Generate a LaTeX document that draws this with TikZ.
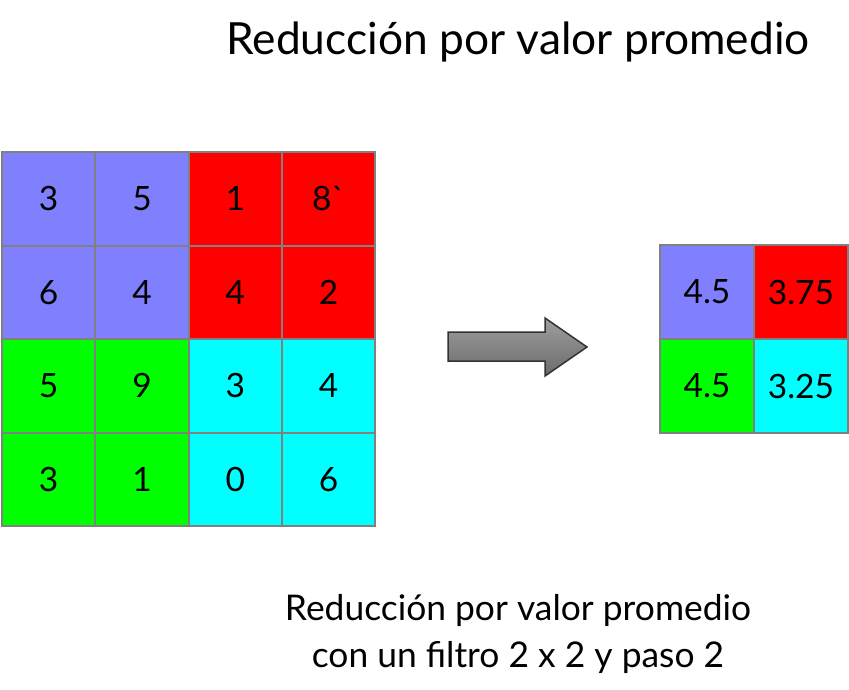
\documentclass[tikz,border=0pt]{standalone}
\usepackage{fontspec}
\setmainfont{Lato}
\definecolor{cblue}{HTML}{8080FF}
\definecolor{cred}{HTML}{FF0000}
\definecolor{cgreen}{HTML}{00FF00}
\definecolor{ccyan}{HTML}{00FFFF}
\definecolor{cborder}{HTML}{808080}
\begin{document}
\begin{tikzpicture}[x=1pt,y=-1pt,
  cell/.style={draw=cborder, line width=2pt, minimum width=93.3pt, minimum height=93.5pt, inner sep=0pt, anchor=center, font=\fontsize{33.5}{38}\selectfont},
  smallcell/.style={cell, minimum width=94pt, minimum height=94pt},
  caption/.style={font=\fontsize{44.3}{52}\selectfont, anchor=center},
  note/.style={font=\fontsize{35.4}{47}\selectfont, align=center, anchor=center}]
\useasboundingbox (0,0) rectangle (849,689);
% left grid
\node[cell, fill=cblue] (a11) at (48.7,198.8) {3};
\node[cell, fill=cblue] (a12) at (142,198.8) {5};
\node[cell, fill=cred] (a13) at (235.3,198.8) {1};
\node[cell, fill=cred] (a14) at (328.6,198.8) {8\textasciigrave};
\node[cell, fill=cblue] (a21) at (48.7,292.3) {6};
\node[cell, fill=cblue] (a22) at (142,292.3) {4};
\node[cell, fill=cred] (a23) at (235.3,292.3) {4};
\node[cell, fill=cred] (a24) at (328.6,292.3) {2};
\node[cell, fill=cgreen] (a31) at (48.7,385.8) {5};
\node[cell, fill=cgreen] (a32) at (142,385.8) {9};
\node[cell, fill=ccyan] (a33) at (235.3,385.8) {3};
\node[cell, fill=ccyan] (a34) at (328.6,385.8) {4};
\node[cell, fill=cgreen] (a41) at (48.7,479.3) {3};
\node[cell, fill=cgreen] (a42) at (142,479.3) {1};
\node[cell, fill=ccyan] (a43) at (235.3,479.3) {0};
\node[cell, fill=ccyan] (a44) at (328.6,479.3) {6};
% right grid
\node[smallcell, fill=cblue] (b11) at (707,292) {4.5};
\node[smallcell, fill=cred] (b12) at (801,292) {3.75};
\node[smallcell, fill=cgreen] (b21) at (707,386) {4.5};
\node[smallcell, fill=ccyan] (b22) at (801,386) {3.25};
% arrow
\path[draw=black!80, line width=1.5pt, top color=black!38, bottom color=black!58, line join=miter]
  (448,332) -- (545,332) -- (545,318) -- (587,347) -- (545,376) -- (545,361) -- (448,361) -- cycle;
% texts
\node[caption] (title) at (518,42) {Reducción por valor promedio};
\node[note] (sub) at (518,634) {Reducción por valor promedio\\con un filtro 2 x 2 y paso 2};
\end{tikzpicture}
\end{document}
